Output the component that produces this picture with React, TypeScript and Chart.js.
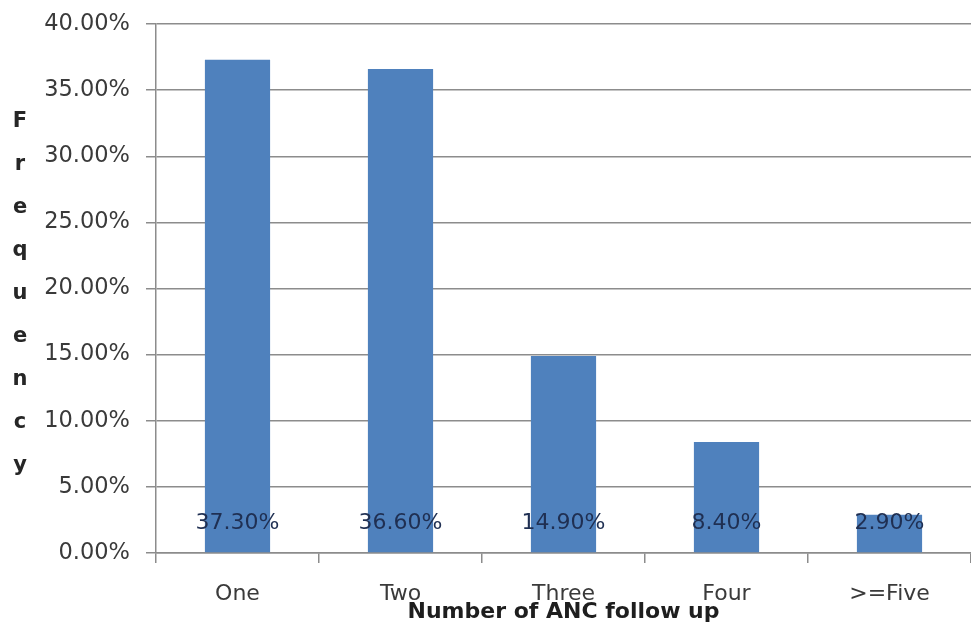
import React, { useEffect, useRef } from "react";
import { Chart, registerables } from "chart.js";

Chart.register(...registerables);

// Share of respondents by number of antenatal care (ANC) visits, in percent
const categories = ["One", "Two", "Three", "Four", ">=Five"];
const frequencies = [37.3, 36.6, 14.9, 8.4, 2.9];
const yMin = 0;
const yMax = 40;
const yStep = 5;
const yTitle = "Frequency";
const xTitle = "Number of ANC follow up";

const FONT = "'DejaVu Sans', Verdana, sans-serif";
const BAR_COLOR = "#4f81bd";
const GRID_COLOR = "#8c8c8c";
const TEXT_COLOR = "#3a3a3a";

const pct = (v: number) => v.toFixed(2) + "%";

// Value labels at the base of each bar and the stacked-letter y title
const annotations = {
  id: "annotations",
  afterDatasetsDraw(chart: any) {
    const { ctx, chartArea } = chart;
    const meta = chart.getDatasetMeta(0);
    const base = chart.scales.y.getPixelForValue(0);
    ctx.save();
    ctx.font = `22px ${FONT}`;
    ctx.fillStyle = "#1f2f52";
    ctx.textAlign = "center";
    ctx.textBaseline = "middle";
    meta.data.forEach((bar: any, i: number) => {
      ctx.fillText(pct(frequencies[i]), bar.x, base - 30);
    });

    ctx.font = `bold 21px ${FONT}`;
    ctx.fillStyle = "#262626";
    const letters = yTitle.split("");
    const gap = 43;
    const mid = (chartArea.top + chartArea.bottom) / 2 + 5;
    const start = mid - (gap * (letters.length - 1)) / 2;
    letters.forEach((ch, i) => {
      ctx.fillText(ch, 20, start + gap * i);
    });
    ctx.restore();
  },
};

export default function App() {
  const canvasRef = useRef<HTMLCanvasElement | null>(null);

  useEffect(() => {
    if (!canvasRef.current) return;
    const chart = new Chart(canvasRef.current, {
      type: "bar",
      data: {
        labels: categories,
        datasets: [
          {
            data: frequencies,
            backgroundColor: BAR_COLOR,
            borderWidth: 0,
            categoryPercentage: 1,
            barPercentage: 0.4,
          },
        ],
      },
      options: {
        animation: false,
        responsive: false,
        maintainAspectRatio: false,
        layout: { padding: { top: 24, right: 0, left: 0, bottom: 0 } },
        plugins: {
          legend: { display: false },
          tooltip: { enabled: false },
        },
        scales: {
          x: {
            grid: {
              display: true,
              offset: true,
              drawOnChartArea: false,
              drawTicks: true,
              tickLength: 10,
              color: GRID_COLOR,
              lineWidth: 1.5,
            },
            border: { display: true, color: GRID_COLOR, width: 1.5 },
            ticks: {
              padding: 18,
              color: TEXT_COLOR,
              font: { family: FONT, size: 22 },
              maxRotation: 0,
            },
            title: {
              display: true,
              text: xTitle,
              color: "#1e1e1e",
              font: { family: FONT, size: 22, weight: "bold" },
              padding: { top: 0, bottom: 6 },
            },
            afterFit(scale: any) {
              scale.height = 78;
            },
          },
          y: {
            min: yMin,
            max: yMax,
            ticks: {
              stepSize: yStep,
              padding: 16,
              color: TEXT_COLOR,
              font: { family: FONT, size: 22.5 },
              callback: (v: any) => pct(Number(v)),
            },
            grid: {
              color: GRID_COLOR,
              lineWidth: 1.5,
              tickLength: 10,
            },
            border: { display: true, color: GRID_COLOR, width: 1.5 },
            afterFit(scale: any) {
              scale.width = 156;
              scale.paddingTop = 0;
            },
          },
        },
      },
      plugins: [annotations],
    });
    return () => chart.destroy();
  }, []);

  return (
    <div
      style={{
        position: "absolute",
        left: 0,
        top: 0,
        width: 971,
        height: 631,
        background: "#ffffff",
      }}
    >
      <canvas ref={canvasRef} width={971} height={631} />
    </div>
  );
}
